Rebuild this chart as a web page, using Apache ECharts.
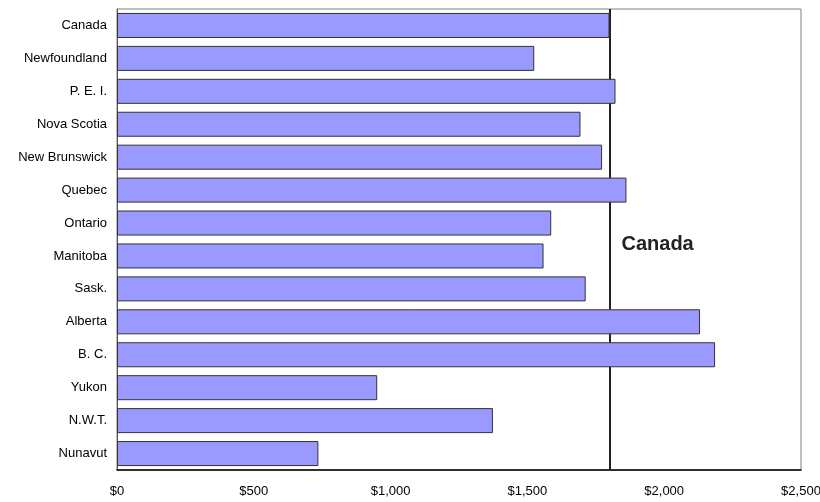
<!DOCTYPE html>
<html>
<head>
<meta charset="utf-8">
<script src="https://cdn.jsdelivr.net/npm/echarts@6/dist/echarts.min.js"></script>
<style>html,body{margin:0;padding:0;background:#fff;}#c{width:820px;height:502px;}</style>
</head>
<body>
<div id="c"></div>
<script>
var categories = ['Canada','Newfoundland','P. E. I.','Nova Scotia','New Brunswick','Quebec','Ontario','Manitoba','Sask.','Alberta','B. C.','Yukon','N.W.T.','Nunavut'];
var values = [1800,1525,1822,1694,1773,1862,1587,1559,1713,2131,2186,951,1374,736];
var canadaLine = 1800;
var canadaLabel = 'Canada';
var xTicks = [0,500,1000,1500,2000,2500];

var FONT = 'Liberation Sans, Arial, sans-serif';
var chart = echarts.init(document.getElementById('c'));
chart.setOption({
  animation: false,
  grid: {left: 117, right: 19, top: 9, bottom: 32, show: true, borderColor: '#808080', borderWidth: 1,
    containLabel: false, outerBoundsMode: 'none'},
  xAxis: {
    type: 'value', min: xTicks[0], max: xTicks[xTicks.length - 1], interval: xTicks[1] - xTicks[0],
    axisLine: {show: true, lineStyle: {color: '#000', width: 1.5}},
    axisTick: {show: false},
    splitLine: {show: false},
    axisLabel: {color: '#000', fontFamily: FONT, fontSize: 13, margin: 15,
      formatter: function(v){ return '$' + v.toLocaleString('en-US'); }}
  },
  yAxis: {
    type: 'category', data: categories, inverse: true,
    axisLine: {show: true, lineStyle: {color: '#555', width: 1}},
    axisTick: {show: false},
    axisLabel: {color: '#000', fontFamily: FONT, fontSize: 13, margin: 10}
  },
  series: [{
    type: 'line', data: [], z: 1,
    markLine: {
      silent: true, symbol: 'none', z: 1,
      lineStyle: {color: '#222', width: 2, type: 'solid'},
      label: {show: false},
      data: [{xAxis: canadaLine}]
    },
    markPoint: {
      symbol: 'circle', symbolSize: 0,
      label: {show: true, formatter: canadaLabel, position: 'right', distance: 0, offset: [12, -11],
        color: '#222', fontWeight: 'bold', fontSize: 20, fontFamily: FONT},
      data: [{coord: [canadaLine, 'Manitoba']}]
    }
  }, {
    type: 'bar', data: values, barCategoryGap: '24%', z: 3,
    itemStyle: {color: '#9999ff', borderColor: '#333', borderWidth: 1}
  }]
});
</script>
</body>
</html>
